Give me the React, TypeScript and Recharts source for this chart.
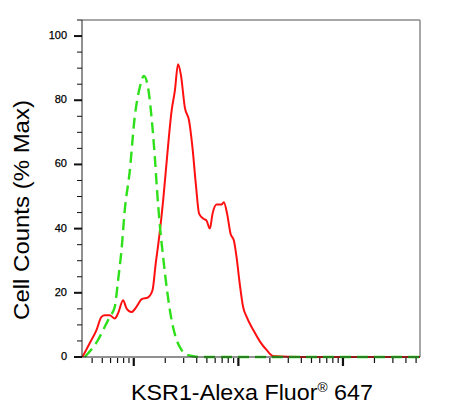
import { Label, Line, LineChart, ReferenceLine, XAxis, YAxis } from 'recharts';

// fluorescence intensity (log axis) and % max
const redX = [3.23, 3.79, 4.4, 4.91, 5.28, 5.89, 6.58, 7.08, 7.91, 8.51, 9.51, 10.6, 11.9, 13.7, 15.1, 16.2, 17.5, 19.1, 20.8, 23.0, 24.7, 26.5, 28.2, 30.8, 33.8, 36.4, 39.2, 42.2, 46.8, 49.6, 53.4, 56.6, 61.8, 69.0, 72.6, 78.1, 84.2, 90.6, 96.1, 103, 111, 120, 139, 161, 186, 215, 400, 1500, 5450];
const redY = [0, 4.3, 8.4, 12.5, 13, 13, 12, 13.6, 17.7, 15.2, 14, 15.6, 18, 18.6, 20.8, 29, 37.4, 48.8, 62.2, 76.7, 82.9, 91.2, 88, 77.7, 73.6, 65.3, 53.9, 44.6, 43, 42.5, 40, 44.6, 47.5, 47.5, 48.2, 44.6, 38.4, 36.3, 31.1, 22.9, 15.6, 12.5, 8.4, 4.8, 2.2, 0.3, 0, 0, 0];

const greenX = [3.4, 4.55, 5.28, 5.89, 6.58, 7.08, 7.63, 8.2, 9.16, 10.2, 11.4, 12.5, 13.7, 14.8, 15.9, 16.7, 17.7, 19.1, 20.8, 23.0, 25.7, 28.6, 33.1, 45, 400, 1500, 5450];
const greenY = [0, 5.3, 9.4, 12.5, 15.6, 23.9, 33.2, 45.7, 58, 74.6, 83.9, 87.6, 83.9, 74.6, 62.2, 51.9, 41.5, 31.1, 20.8, 11.5, 5.3, 2.2, 0.6, 0, 0, 0, 0];

const yTicks = [0, 5, 10, 15, 20, 25, 30, 35, 40, 45, 50, 55, 60, 65, 70, 75, 80, 85, 90, 95, 100, 105];
const xTicks = [4, 5, 6, 7, 8, 9, 10, 20, 30, 40, 50, 60, 70, 80, 90, 100, 200, 300, 400, 500, 600, 700, 800, 900, 1000, 2000, 3000, 4000, 5000];
const xMajor = [10, 100, 1000];

const red = redX.map((x, i) => ({ x, y: redY[i] }));
const green = greenX.map((x, i) => ({ x, y: greenY[i] }));

const FONT = "Arial, 'Liberation Sans', sans-serif";

function YTick({ x, y, payload }: any) {
  const v = payload.value;
  const major = v % 20 === 0 && v <= 100;
  return (
    <g>
      <line x1={x - (major ? 8 : 5)} x2={x} y1={y} y2={y} stroke="#111" strokeWidth={major ? 2 : 1} />
      {major && (
        <text x={x - 15} y={y} dy={3} textAnchor="end" fontSize={11} fontFamily={FONT} fill="#000" stroke="#000" strokeWidth={0.25}>
          {v}
        </text>
      )}
    </g>
  );
}

function XTick({ x, y, payload }: any) {
  const major = xMajor.includes(payload.value);
  return <line x1={x} x2={x} y1={y + 1} y2={y + (major ? 9 : 6)} stroke="#111" strokeWidth={major ? 2.2 : 1.2} />;
}

export default function App() {
  return (
    <div style={{ position: 'absolute', left: 0, top: 0, width: 476, height: 417, background: '#fff' }}>
      <LineChart width={476} height={417} data={red} margin={{ top: 20, right: 56, left: 0, bottom: 0 }}>
        <XAxis
          dataKey="x"
          type="number"
          scale="log"
          domain={[3.2, 5450]}
          allowDataOverflow
          ticks={xTicks}
          interval={0}
          tickSize={0}
          tickMargin={0}
          tick={<XTick />}
          height={60}
          stroke="#222"
        >
          <Label
            content={() => (
              <text transform="translate(252 400) scale(1.06 1)" x={0} y={0} textAnchor="middle" fontSize={22} fontFamily={FONT} fill="#000">
                KSR1-Alexa Fluor
                <tspan fontSize={13} dy={-8}>®</tspan>
                <tspan dy={8}> 647</tspan>
              </text>
            )}
          />
        </XAxis>
        <YAxis
          type="number"
          domain={[0, 105]}
          ticks={yTicks}
          interval={0}
          width={82}
          tickSize={0}
          tickMargin={0}
          tick={<YTick />}
          stroke="#222"
        >
          <Label
            content={() => (
              <text transform="translate(29 210) rotate(-90) scale(1.09 1)" x={0} y={0} textAnchor="middle" fontSize={22} fontFamily={FONT} fill="#000">
                Cell Counts (% Max)
              </text>
            )}
          />
        </YAxis>
        <ReferenceLine y={105} stroke="#8a8a8a" strokeWidth={1.5} />
        <ReferenceLine x={5450} stroke="#8a8a8a" strokeWidth={1.5} />
        <Line data={red} dataKey="y" type="monotone" stroke="#ff1010" strokeWidth={2} dot={false} isAnimationActive={false} />
        <Line data={green} dataKey="y" type="monotone" stroke="#2ee01a" strokeWidth={2.4} strokeDasharray="11 6" dot={false} isAnimationActive={false} />
      </LineChart>
    </div>
  );
}
